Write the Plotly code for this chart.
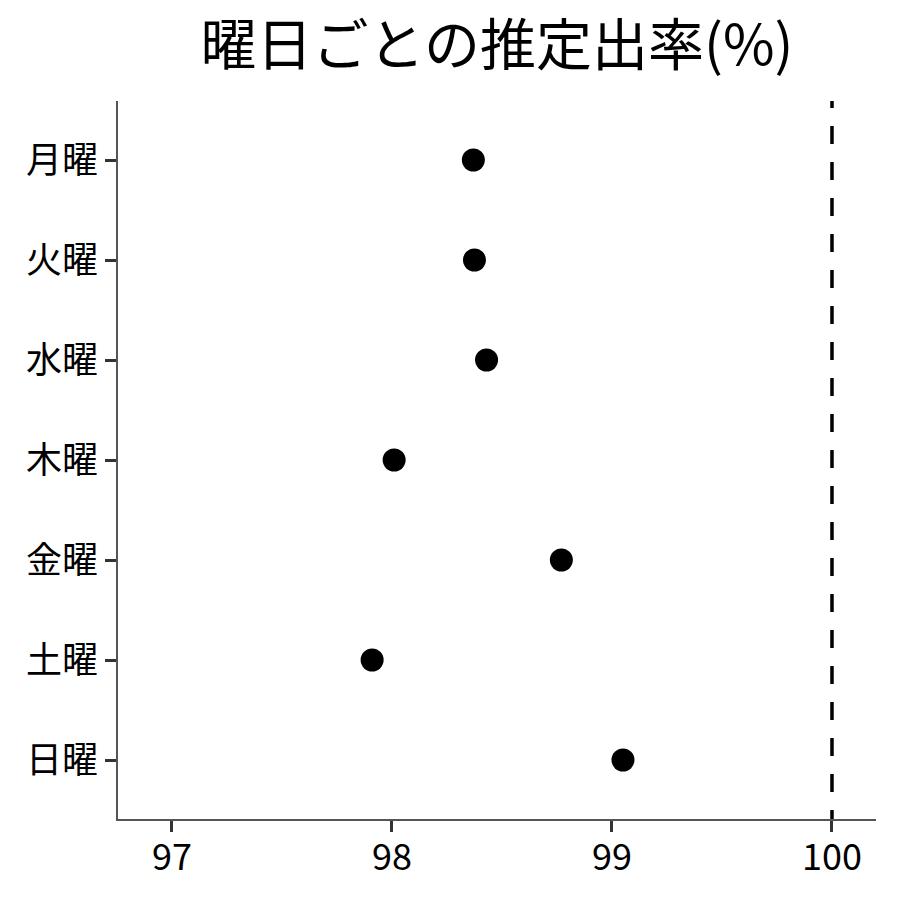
import plotly.graph_objects as go

days = ["月曜", "火曜", "水曜", "木曜", "金曜", "土曜", "日曜"]
rates = [98.37, 98.375, 98.43, 98.01, 98.77, 97.91, 99.05]
ref_value = 100
x_ticks = [97, 98, 99, 100]
title = "曜日ごとの推定出率(%)"

font = "Noto Sans CJK JP"

fig = go.Figure()
fig.add_trace(go.Scatter(
    x=rates, y=days, mode="markers",
    marker=dict(color="black", size=23),
    showlegend=False, hoverinfo="x+y",
))
# dashed reference line on a hidden helper axis (clipped to the plot area)
fig.add_trace(go.Scatter(
    x=[ref_value, ref_value], y=[1.0153, 0], yaxis="y2", mode="lines",
    line=dict(color="black", width=3.5, dash="18px,18px"),
    showlegend=False, hoverinfo="skip", cliponaxis=True,
))

fig.update_layout(
    width=900, height=900,
    paper_bgcolor="white", plot_bgcolor="white",
    margin=dict(l=118, r=24, t=101, b=81),
    title=dict(text=title, xref="paper", x=0.5, xanchor="center",
               y=1 - 45 / 900, yanchor="middle",
               font=dict(family=font, size=56, color="black")),
    font=dict(family=font, color="black"),
    yaxis2=dict(overlaying="y", range=[0, 1], visible=False, fixedrange=True),
)
fig.update_xaxes(
    range=[96.755, 100.2], tickvals=x_ticks, ticktext=[str(v) for v in x_ticks],
    showgrid=False, zeroline=False, showline=True, linecolor="#555", linewidth=1.5,
    ticks="outside", ticklen=11, tickwidth=3, tickcolor="#333",
    ticklabelstandoff=-5,
    tickfont=dict(family=font, size=36, color="black"),
)
fig.update_yaxes(
    selector=dict(overlaying=None),
    categoryorder="array", categoryarray=days,
    range=[6.59, -0.59], autorange=False,
    showgrid=False, zeroline=False, showline=True, linecolor="#555", linewidth=1.5,
    ticks="outside", ticklen=11, tickwidth=3, tickcolor="#333",
    tickfont=dict(family=font, size=36, color="black"),
)
fig.layout.yaxis2.visible = False

fig.write_html("out.html", config={"displayModeBar": False},
               post_script="document.body.style.margin='0';")
